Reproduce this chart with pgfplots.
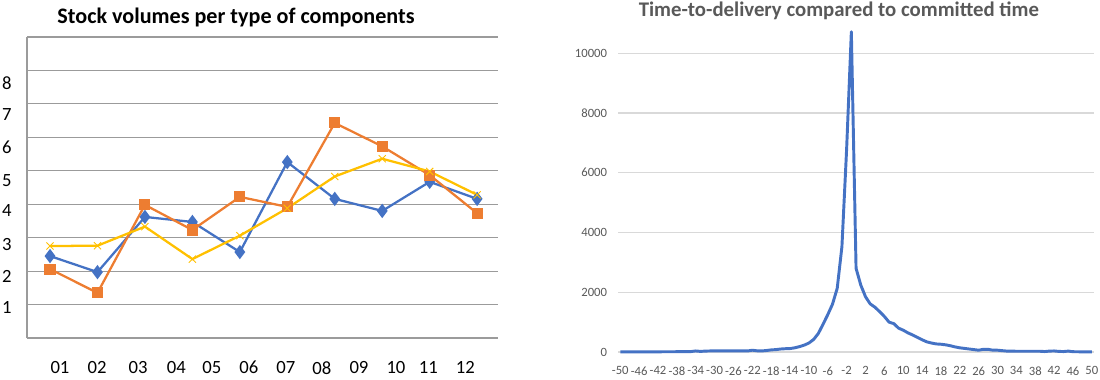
\documentclass[border=0pt]{standalone}
\usepackage{fontspec}
\setmainfont{Carlito}
\usepackage{pgfplots}
\pgfplotsset{compat=1.18}
\definecolor{cblue}{RGB}{68,114,196}
\definecolor{corange}{RGB}{237,125,49}
\definecolor{cyellow}{RGB}{255,192,0}
\definecolor{tgray}{RGB}{89,89,89}
\definecolor{lgrid}{RGB}{217,217,217}
\definecolor{mgrid}{RGB}{155,155,155}
\begin{document}
\begin{tikzpicture}
\useasboundingbox (0,0) rectangle (825pt,284.25pt);
% ---------- left chart ----------
\begin{axis}[
  at={(20.25pt,30.75pt)}, anchor=south west,
  scale only axis, width=353.25pt, height=225.75pt,
  xmin=0.515, xmax=10.44, ymin=0, ymax=9,
  axis line style={draw=none},
  xtick pos=bottom, ytick pos=left,
  xtick={1.21,1.99,2.855,3.66,4.41,5.19,5.97,6.73,7.51,8.29,8.97,9.75},
  xticklabels={01,02,03,04,05,06,07,08,09,10,11,12},
  ytick={0,1,2,3,4,5,6,7,8,9},
  yticklabels={},
  ymajorgrids, xmajorgrids=false,
  major grid style={mgrid, line width=0.9pt},
  extra y ticks={0.90,1.85,2.81,3.80,4.72,5.71,6.67,7.63},
  extra y tick labels={1,2,3,4,5,6,7,8},
  extra y tick style={ymajorgrids=false},
  major tick length=0pt,
  tick label style={font=\fontsize{14}{16}\selectfont, text=black},
  xticklabel style={yshift=-14pt},
  yticklabel style={xshift=-8pt},
  clip=false,
]
\draw[mgrid, line width=0.9pt] (axis cs:0.515,0) -- (axis cs:0.515,9);
\addplot[cblue, line width=1.7pt, mark=diamond*, mark size=4pt] coordinates {
 (1,2.45) (2,1.97) (3,3.62) (4,3.47) (5,2.57) (6,5.26) (7,4.16) (8,3.80) (9,4.67) (10,4.16)};
\addplot[corange, line width=1.7pt, mark=square*, mark size=3.3pt] coordinates {
 (1,2.06) (2,1.35) (3,3.98) (4,3.23) (5,4.22) (6,3.92) (7,6.43) (8,5.73) (9,4.87) (10,3.73)};
\addplot[cyellow, line width=1.7pt, mark=x, mark size=3.8pt, mark options={line width=0.7pt}] coordinates {
 (1,2.75) (2,2.76) (3,3.33) (4,2.36) (5,3.06) (6,3.88) (7,4.83) (8,5.36) (9,4.98) (10,4.28)};
\end{axis}
\node[font=\fontsize{16.6}{19}\selectfont\bfseries, text=black] at (177pt,271.5pt) {Stock volumes per type of components};
% ---------- right chart ----------
\begin{axis}[
  at={(463.8pt,20.25pt)}, anchor=south west,
  scale only axis, width=356.5pt, height=246.45pt,
  xmin=-50.4, xmax=50.4, ymin=0, ymax=11000,
  axis x line*=bottom, axis y line*=left,
  x axis line style={lgrid, line width=0.8pt},
  y axis line style={draw=none},
  xtick={-50,-46,...,50},
  ytick={0,2000,4000,6000,8000,10000},
  scaled y ticks=false,
  /pgf/number format/assume math mode=true,
  yticklabel style={/pgf/number format/1000 sep={}},
  ymajorgrids, major grid style={lgrid, line width=0.8pt},
  major tick length=0pt,
  tick label style={font=\fontsize{9.5}{11}\selectfont, text=tgray},
  xticklabel style={yshift=-7.5pt},
  yticklabel style={xshift=-5pt},
  clip=false,
]
\addplot[cblue, line width=2.2pt, line join=round] coordinates {
(-50,5) (-49,5) (-48,5) (-47,5) (-46,5) (-45,5) (-44,5) (-43,5) (-42,5) (-41,8)
(-40,8) (-39,8) (-38,10) (-37,10) (-36,12) (-35,15) (-34,35) (-33,20) (-32,30) (-31,35)
(-30,35) (-29,35) (-28,35) (-27,35) (-26,35) (-25,35) (-24,35) (-23,35) (-22,60) (-21,40)
(-20,35) (-19,50) (-18,70) (-17,80) (-16,100) (-15,110) (-14,115) (-13,140) (-12,180) (-11,230)
(-10,300) (-9,420) (-8,620) (-7,930) (-6,1250) (-5,1600) (-4,2130) (-3,3525) (-2,6800) (-1,10720)
(0,2800) (1,2240) (2,1850) (3,1610) (4,1500) (5,1350) (6,1190) (7,1000) (8,950) (9,800)
(10,730) (11,640) (12,570) (13,490) (14,410) (15,340) (16,300) (17,270) (18,260) (19,240)
(20,210) (21,170) (22,140) (23,120) (24,100) (25,80) (26,60) (27,90) (28,90) (29,60)
(30,60) (31,45) (32,30) (33,30) (34,25) (35,25) (36,25) (37,25) (38,25) (39,25)
(40,15) (41,30) (42,35) (43,20) (44,15) (45,30) (46,10) (47,8) (48,5) (49,5) (50,5)};
\end{axis}
\node[font=\fontsize{15.6}{18}\selectfont\bfseries, text=tgray] at (629.2pt,276.2pt) {Time-to-delivery compared to committed time};
\end{tikzpicture}
\end{document}
